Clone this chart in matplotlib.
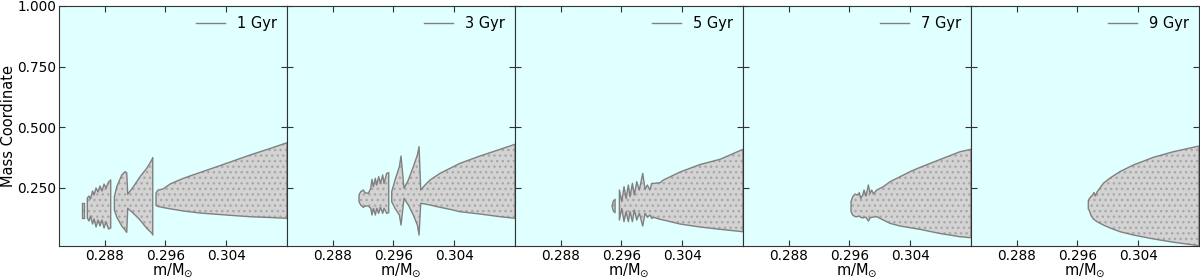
import matplotlib
matplotlib.use('Agg')
import matplotlib.pyplot as plt
from matplotlib.ticker import FormatStrFormatter

ages = [1, 3, 5, 7, 9]
age_labels = [f"{a} Gyr" for a in ages]
xticks = [0.288, 0.296, 0.304]
yticks = [0.25, 0.5, 0.75, 1.0]
xlim = (0.282, 0.312)
ylim = (0.01, 1.0)

# ---- panel 1 (1 Gyr) ----
p1_a_x = [0.28503, 0.28529]
p1_a_top = [0.187, 0.187]
p1_a_bot = [0.125, 0.125]

p1_b_x = [0.28572, 0.28595, 0.28614, 0.28641, 0.28661, 0.28687, 0.28713,
          0.28739, 0.28766, 0.28792, 0.28818, 0.28851, 0.28880]
p1_b_top = [0.2079, 0.2162, 0.2038, 0.2368, 0.2203, 0.2492, 0.2327,
            0.2574, 0.2368, 0.2657, 0.2492, 0.2739, 0.2822]
p1_b_bot = [0.1254, 0.1130, 0.1337, 0.1007, 0.1213, 0.0883, 0.1172,
            0.0924, 0.1172, 0.0842, 0.1089, 0.0800, 0.0842]

p1_c_x = [0.28928, 0.28959, 0.29025, 0.29068, 0.29091, 0.29104, 0.29178,
          0.29266, 0.29354, 0.29420, 0.29433]
p1_c_top = [0.2133, 0.2545, 0.3028, 0.3164, 0.3123, 0.2232, 0.2545,
            0.2958, 0.3305, 0.3647, 0.3742]
p1_c_bot = [0.1584, 0.1295, 0.0924, 0.0759, 0.0664, 0.1654, 0.1448,
            0.1172, 0.0829, 0.0635, 0.0553]

p1_d_x = [0.29476, 0.29503, 0.29568, 0.29661, 0.29836, 0.30055, 0.30275,
          0.30490, 0.30713, 0.30976, 0.3120]
p1_d_top = [0.2286, 0.2409, 0.2451, 0.2657, 0.2892, 0.3131, 0.3370,
            0.3606, 0.3853, 0.4121, 0.4361]
p1_d_bot = [0.1770, 0.1729, 0.1687, 0.1634, 0.1543, 0.1460, 0.1407,
            0.1357, 0.1308, 0.1275, 0.1242]

# ---- panel 2 (3 Gyr) ----
p2_a_x = [0.29147, 0.29169, 0.29204, 0.29226, 0.29270, 0.29301, 0.29318,
          0.29336, 0.29362, 0.29380, 0.29406, 0.29428, 0.29459, 0.29476,
          0.29511, 0.29538]
p2_a_top = [0.2203, 0.2340, 0.2409, 0.2299, 0.2272, 0.2478, 0.2849,
            0.2547, 0.2891, 0.2616, 0.2959, 0.2684, 0.3028, 0.2684,
            0.3097, 0.3124]
p2_a_bot = [0.1928, 0.1790, 0.1694, 0.1749, 0.1749, 0.1653, 0.1378,
            0.1653, 0.1378, 0.1653, 0.1447, 0.1694, 0.1447, 0.1653,
            0.1447, 0.1474]

p2_b_x = [0.29577, 0.29621, 0.29678, 0.29700, 0.29739, 0.29796, 0.29862,
          0.29915, 0.29937, 0.29959, 0.30016, 0.30082, 0.30213, 0.30345,
          0.30476, 0.30739, 0.31003, 0.3120]
p2_b_top = [0.2340, 0.2822, 0.3372, 0.3812, 0.2478, 0.2822, 0.3372,
            0.3853, 0.4197, 0.2409, 0.2616, 0.2822, 0.3098, 0.3305,
            0.3511, 0.3812, 0.4088, 0.4295]
p2_b_bot = [0.1928, 0.1653, 0.1378, 0.0965, 0.2066, 0.1790, 0.1378,
            0.0965, 0.0553, 0.1861, 0.1832, 0.1790, 0.1696, 0.1613,
            0.1514, 0.1419, 0.1308, 0.1242]

# ---- panel 3 (5 Gyr) ----
p3_a_x = [0.29476, 0.29493, 0.29516]
p3_a_top = [0.1749, 0.1955, 0.2026]
p3_a_bot = [0.1749, 0.1543, 0.1473]

p3_b_x = [0.29573, 0.29604, 0.29634, 0.29661, 0.29691, 0.29713, 0.29744,
          0.29770, 0.29801, 0.29836, 0.29880, 0.29911, 0.29941, 0.29976,
          0.29998, 0.30029, 0.30108, 0.30152, 0.30371, 0.30634, 0.30897,
          0.3120]
p3_b_top = [0.2409, 0.1928, 0.2547, 0.2066, 0.2616, 0.2134, 0.2684,
            0.2203, 0.2753, 0.2409, 0.3097, 0.2437, 0.2616, 0.2409,
            0.2684, 0.2684, 0.2712, 0.2822, 0.3152, 0.3461, 0.3676,
            0.4088]
p3_b_bot = [0.1172, 0.1653, 0.1103, 0.1515, 0.1103, 0.1515, 0.1103,
            0.1584, 0.1172, 0.1447, 0.0924, 0.1447, 0.1282, 0.1378,
            0.1241, 0.1282, 0.1199, 0.1172, 0.1007, 0.0883, 0.0788,
            0.0689]

# ---- panel 4 (7 Gyr) ----
p4_a_x = [0.29621, 0.29643, 0.29674, 0.29704, 0.29731, 0.29748, 0.29775,
          0.29792, 0.29818, 0.29849, 0.29871, 0.29893, 0.29915, 0.29959,
          0.30046, 0.30134, 0.30266, 0.30397, 0.30529, 0.30792, 0.31055,
          0.3120]
p4_a_top = [0.1928, 0.2134, 0.2244, 0.2203, 0.2299, 0.2066, 0.2203,
            0.2409, 0.2162, 0.2616, 0.2272, 0.2409, 0.2244, 0.2409,
            0.2547, 0.2753, 0.2959, 0.3165, 0.3344, 0.3668, 0.3989,
            0.4088]
p4_a_bot = [0.1515, 0.1378, 0.1309, 0.1309, 0.1337, 0.1282, 0.1254,
            0.1282, 0.1282, 0.1130, 0.1254, 0.1282, 0.1295, 0.1309,
            0.1172, 0.1034, 0.0924, 0.0855, 0.0787, 0.0615, 0.0483,
            0.0441]

# ---- panel 5 (9 Gyr) ----
p5_a_x = [0.29743, 0.29753, 0.29779, 0.29801, 0.29818, 0.29836, 0.29858,
          0.29941, 0.30029, 0.30161, 0.30336, 0.30599, 0.30862, 0.3120]
p5_a_top = [0.1955, 0.2038, 0.2141, 0.2203, 0.2306, 0.2162, 0.2327,
            0.2686, 0.2904, 0.3172, 0.3441, 0.3758, 0.3989, 0.4224]
p5_a_bot = [0.1625, 0.1584, 0.1357, 0.1254, 0.1192, 0.1151, 0.1102,
            0.0965, 0.0842, 0.0689, 0.0553, 0.0392, 0.0256, 0.0111]

panels = [
    [(p1_a_x, p1_a_top, p1_a_bot), (p1_b_x, p1_b_top, p1_b_bot),
     (p1_c_x, p1_c_top, p1_c_bot), (p1_d_x, p1_d_top, p1_d_bot)],
    [(p2_a_x, p2_a_top, p2_a_bot), (p2_b_x, p2_b_top, p2_b_bot)],
    [(p3_a_x, p3_a_top, p3_a_bot), (p3_b_x, p3_b_top, p3_b_bot)],
    [(p4_a_x, p4_a_top, p4_a_bot)],
    [(p5_a_x, p5_a_top, p5_a_bot)],
]

plt.rcParams['font.family'] = ['DejaVu Sans']
plt.rcParams['hatch.linewidth'] = 1.0

fig, axes = plt.subplots(1, 5, figsize=(12, 2.79), dpi=100, sharey=True)
fig.subplots_adjust(left=0.0492, right=0.9992, top=0.9785, bottom=0.1183, wspace=0)

spine_col = '#333333'
for i, ax in enumerate(axes):
    ax.set_facecolor('#e0ffff')
    for (x, top, bot) in panels[i]:
        ax.fill_between(x, bot, top, facecolor='#d3d3d3', edgecolor='#a8a8a8',
                        hatch='...', linewidth=0, zorder=2)
        ax.fill_between(x, bot, top, facecolor='none', edgecolor='#808080',
                        linewidth=1.0, zorder=3)
    ax.plot([], [], color='#808080', lw=1.0, label=age_labels[i])
    ax.legend(loc='upper right', frameon=False, fontsize=10.5,
              borderaxespad=0.3)
    ax.set_xlim(*xlim)
    ax.set_ylim(*ylim)
    ax.set_xticks(xticks)
    ax.set_yticks(yticks)
    ax.xaxis.set_major_formatter(FormatStrFormatter('%.3f'))
    ax.yaxis.set_major_formatter(FormatStrFormatter('%.3f'))
    ax.tick_params(direction='in', top=True, right=True, length=4,
                   width=0.8, color=spine_col, labelsize=9.8, pad=2)
    if i > 0:
        ax.tick_params(labelleft=False)
    for sp in ax.spines.values():
        sp.set_color(spine_col)
        sp.set_linewidth(0.8)
    ax.set_xlabel(r'm/M$_{\odot}$', fontsize=10.5, labelpad=-1)

axes[0].set_ylabel('Mass Coordinate', fontsize=10.5)
axes[0].yaxis.set_label_coords(-0.19, 0.5)

fig.savefig('out.png', dpi=100)
